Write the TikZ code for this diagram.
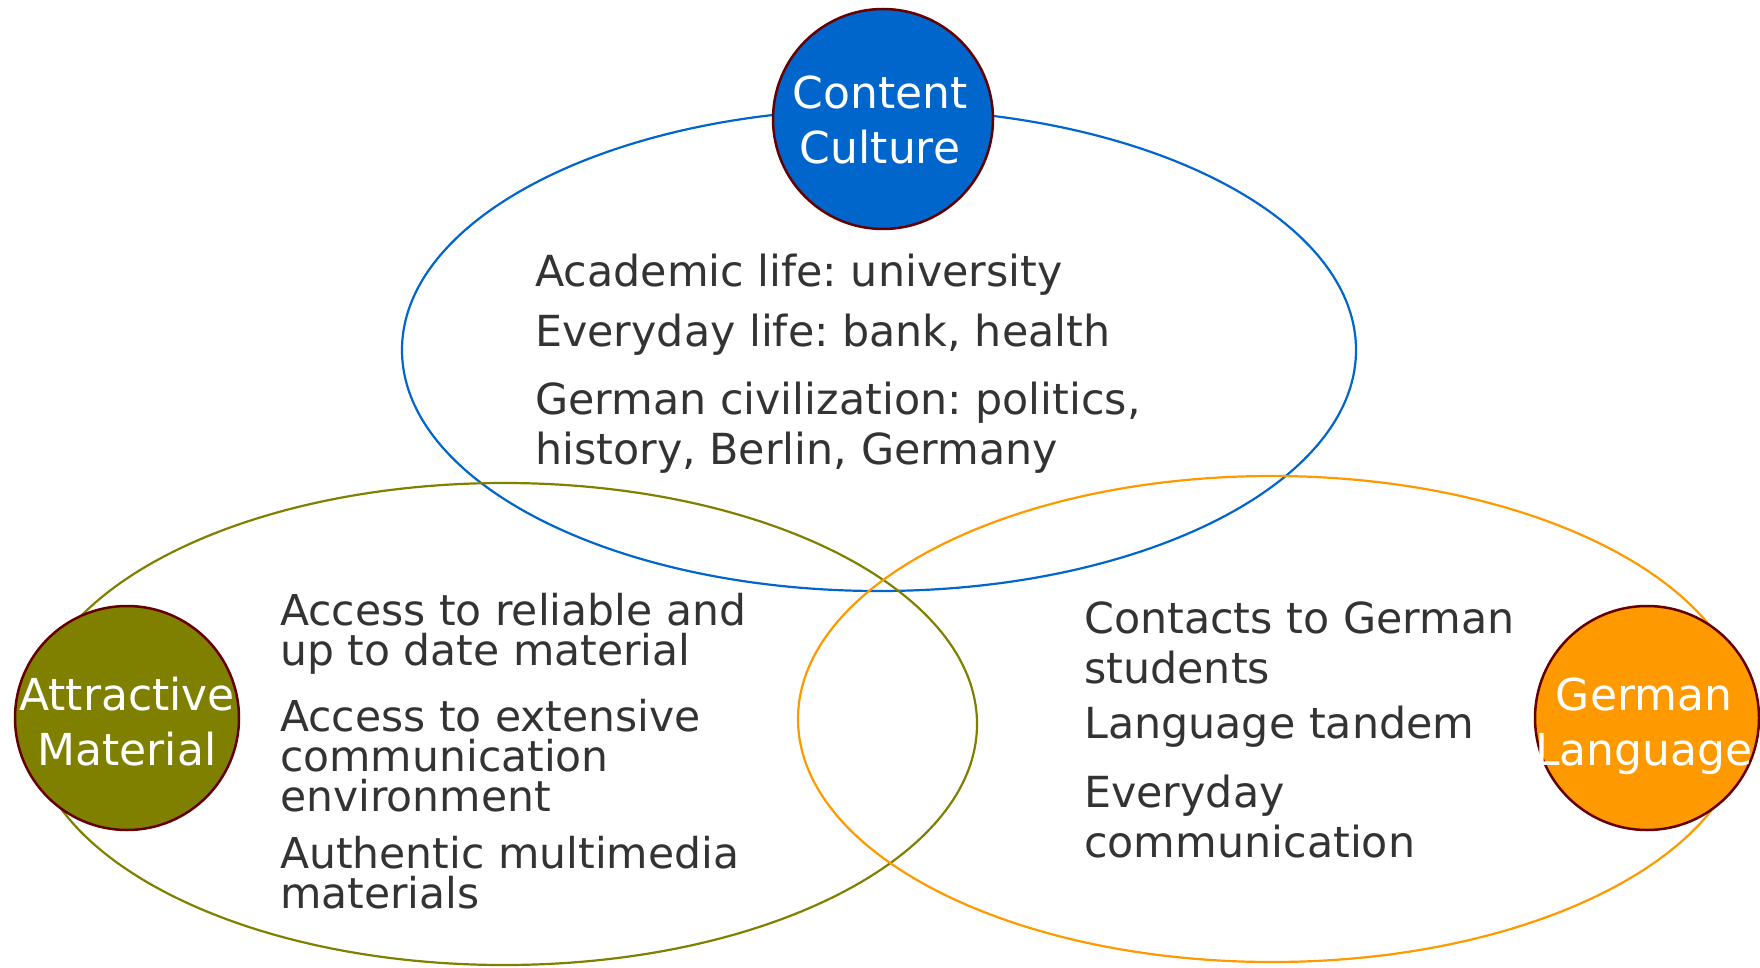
\documentclass[tikz,border=0pt]{standalone}
\usepackage{fontspec}
\setmainfont{DejaVu Sans}
\usepackage{xcolor}

\definecolor{cblue}{HTML}{0066CC}
\definecolor{colive}{HTML}{808000}
\definecolor{corange}{HTML}{FF9900}
\definecolor{crim}{HTML}{660000}
\definecolor{ctext}{HTML}{333333}

\tikzset{
  ring/.style={line width=2.2pt},
  topic/.style={circle, draw=crim, line width=2.5pt, minimum size=224pt, inner sep=0pt},
  topictext/.style={anchor=base, align=center, inner sep=0pt, text=white, font=\fontsize{44}{55}\selectfont},
  item/.style={anchor=base west, align=left, inner sep=0pt, text=ctext, font=\fontsize{42.8}{50}\selectfont},
  tightitem/.style={item, font=\fontsize{42.5}{40}\selectfont}
}

\begin{document}
\frenchspacing
\begin{tikzpicture}[x=1pt,y=-1pt]
\useasboundingbox (0,0) rectangle (1760,968);
% the three areas
\draw[ring, cblue] (879,350) ellipse [x radius=477pt, y radius=241pt];
\draw[ring, colive] (504,724) ellipse [x radius=473pt, y radius=241pt];
\draw[ring, corange] (1272,719) ellipse [x radius=474pt, y radius=243pt];

% topics (text placed by its last line)
\node[topic, fill=cblue, minimum size=220pt] (culture) at (883,119) {};
\node[topic, fill=colive] (material) at (127,718) {};
\node[topic, fill=corange] (language) at (1647,718) {};
\node[topictext] (culturetext) at (880,164) {Content\\Culture};
\node[topictext] (materialtext) at (127,765) {Attractive\\Material};
\node[topictext] (languagetext) at (1644,765) {German\\Language};

% content culture
\node[item] (academic) at (535,286) {Academic life: university};
\node[item] (everyday) at (535,346) {Everyday life: bank, health};
\node[item] (civil) at (535,464) {German civilization: politics,\\history, Berlin, Germany};

% attractive material
\node[tightitem] (reliable) at (280,665) {Access to reliable and\\up to date material};
\node[tightitem] (extensive) at (280,811) {Access to extensive\\communication\\environment};
\node[tightitem] (multimedia) at (280,908) {Authentic multimedia\\materials};

% german language
\node[item] (contacts) at (1084,683) {Contacts to German\\students};
\node[item] (tandem) at (1084,738) {Language tandem};
\node[item] (commu) at (1084,857) {Everyday\\communication};
\end{tikzpicture}
\end{document}
